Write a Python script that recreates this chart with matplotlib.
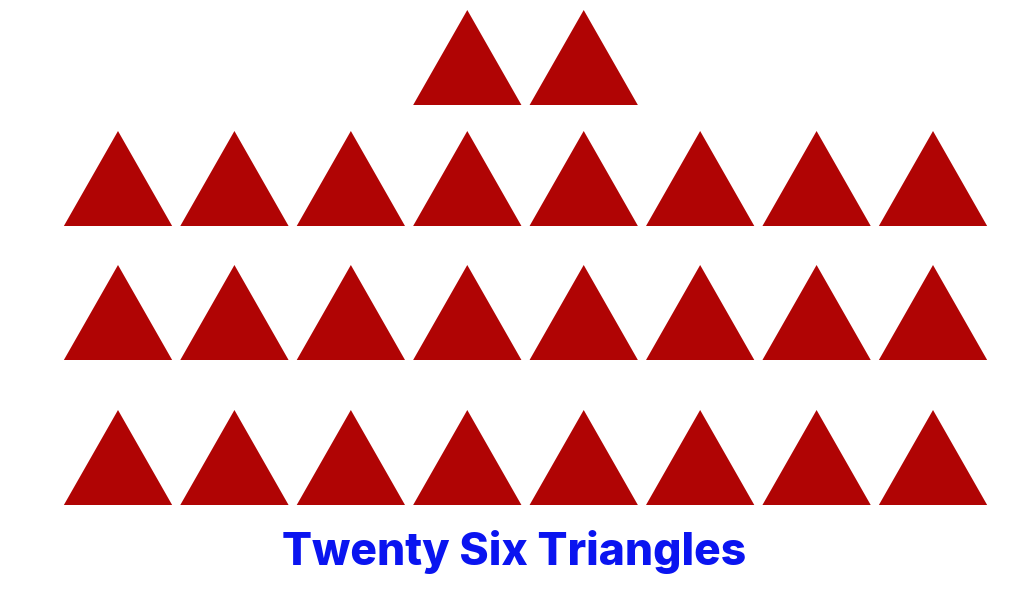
import matplotlib
matplotlib.use("Agg")
import matplotlib.pyplot as plt
from matplotlib.patches import Polygon

# Data: triangles per row (top to bottom), and the column each row starts at
row_counts = [2, 8, 8, 8]
row_start_col = [3, 0, 0, 0]
title = "Twenty Six Triangles"

# layout (pixel-ish units)
row_top = [10, 131, 265, 410]
tri_h = 95
tri_w = 0.93  # in column units
scale = 116.43
x0 = 118

fig = plt.figure(figsize=(10.24, 6.0), dpi=100)
ax = fig.add_axes([0, 0, 1, 1])
ax.set_xlim(-x0 / scale, (1024 - x0) / scale)
ax.set_ylim(600, 0)
ax.axis("off")

for r, n in enumerate(row_counts):
    for k in range(n):
        c = row_start_col[r] + k
        top = row_top[r]
        pts = [(c - tri_w / 2, top + tri_h), (c + tri_w / 2, top + tri_h), (c, top)]
        ax.add_patch(Polygon(pts, closed=True, facecolor="#b00404", edgecolor="none"))

ax.text((514 - x0) / scale, 552, title, ha="center", va="center",
        fontsize=32, fontweight="heavy", color="#0a14f0", family="Inter")

fig.savefig("out.png", dpi=100)
